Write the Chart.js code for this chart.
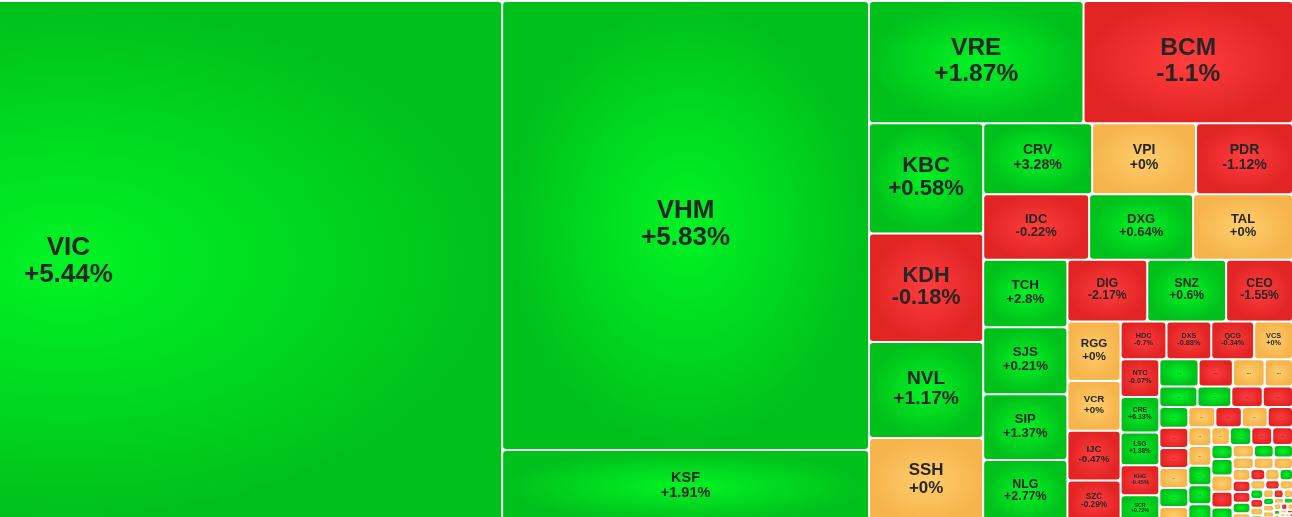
<!DOCTYPE html>
<html>
<head>
<meta charset="utf-8">
<script src="https://cdn.jsdelivr.net/npm/chart.js@4.4.1/dist/chart.umd.min.js"></script>
<style>
  html, body { margin: 0; padding: 0; background: #ffffff; overflow: hidden; }
  #c { display: block; }
</style>
</head>
<body>
<canvas id="c" width="1292" height="517"></canvas>
<script>
// ---- Data ----
const tickers = ['VIC','VHM','KSF','VRE','BCM','KBC','KDH','NVL','SSH','CRV','VPI','PDR','IDC','DXG','TAL',
  'TCH','SJS','SIP','NLG','DIG','SNZ','CEO','RGG','VCR','IJC','SZC','HDC','DXS','QCG','VCS',
  'NTC','CRE','LSG','KHG','SCR'];
const marketCaps = [452313,164559,26755,26169,25559,12597,12369,10944,9690,7739,7384,6887,6943,6812,6550,
  5670,5628,5544,5292,4920,4859,4121,3154,2650,2650,2253,1725,1688,1613,1463,
  1463,1367,1271,1155,1078];
const changes = [5.44,5.83,1.91,1.87,-1.1,0.58,-0.18,1.17,0,3.28,0,-1.12,-0.22,0.64,0,
  2.8,0.21,1.37,2.77,-2.17,0.6,-1.55,0,0,-0.47,-0.29,-0.7,-0.88,-0.34,0,
  -0.07,6.33,1.88,-0.45,0.72];
// small tiles whose tickers are truncated to "..." in the reference
const otherCaps = [1067,932,864,770, 788,700,650,625,600, 588,576,576,551,466, 541,529,518,506,437,
  455,450,440,430,328, 380,371,370,297, 349,345,338,326,270,
  250,245,240,225, 220,210,200,190,185,175,165,160,150,140, 135,125,120,110,100,95,90,85,80,75,
  70,65,60,55,50,45,40,35,30,25, 25,22,20,20,18,16,15,14,12,12,10,10];
const otherTrend = [1,-1,0,0, 1,1,-1,-1,1, -1,-1,0,1,0, 0,-1,0,-1,0,
  0,1,1,1,0, 1,-1,-1,1, 1,0,-1,1,0,
  1,1,0,0, 0,0,-1,-1,1,0,-1,0,1,0, -1,0,1,-1,0,1,0,-1,0,1,
  0,0,-1,0,1,0,-1,0,1,0, 1,0,-1,0,0,1,0,-1,0,0,1,0];

const allLabels = tickers.concat(otherCaps.map(() => '...'));
const allValues = marketCaps.concat(otherCaps);
const allChanges = changes.concat(otherCaps.map(() => null));
const allTrend = changes.map(c => Math.sign(c)).concat(otherTrend);

// ---- Squarified layout: a row grows while its last tile's shape moves toward the target aspect ----
function squarify(values, W, H, rho) {
  const total = values.reduce((a, b) => a + b, 0);
  const k = (W * H) / total;
  const areas = values.map(v => v * k);
  const rects = new Array(values.length);
  let rx = 0, ry = 0, rw = W, rh = H;
  let row = [], rowSum = 0, i = 0;
  const score = a => Math.max(rho / a, a / rho);
  const flush = () => {
    const vertical = rw >= rh;
    const side = vertical ? rh : rw;
    const t = rowSum / side;
    let off = 0;
    for (const idx of row) {
      const len = areas[idx] / t;
      rects[idx] = vertical ? { x: rx, y: ry + off, w: t, h: len } : { x: rx + off, y: ry, w: len, h: t };
      off += len;
    }
    if (vertical) { rx += t; rw -= t; } else { ry += t; rh -= t; }
    row = []; rowSum = 0;
  };
  while (i < areas.length) {
    if (row.length) {
      const vertical = rw >= rh;
      const side = vertical ? rh : rw;
      const last = areas[row[row.length - 1]];
      const tB = rowSum / side, tA = (rowSum + areas[i]) / side;
      const aB = vertical ? tB * tB / last : last / (tB * tB);
      const aA = vertical ? tA * tA / last : last / (tA * tA);
      if (score(aA) > score(aB)) { flush(); continue; }
    }
    row.push(i); rowSum += areas[i]; i++;
  }
  if (row.length) flush();
  return rects;
}

const PALETTE = {
  '1':  { center: 'rgb(0,244,36)',   edge: 'rgb(0,192,27)' },
  '-1': { center: 'rgb(255,62,62)',  edge: 'rgb(226,36,36)' },
  '0':  { center: 'rgb(255,206,108)', edge: 'rgb(246,180,76)' }
};

function roundRectPath(ctx, x, y, w, h, r) {
  ctx.beginPath();
  ctx.moveTo(x + r, y);
  ctx.lineTo(x + w - r, y);
  ctx.arcTo(x + w, y, x + w, y + r, r);
  ctx.lineTo(x + w, y + h - r);
  ctx.arcTo(x + w, y + h, x + w - r, y + h, r);
  ctx.lineTo(x + r, y + h);
  ctx.arcTo(x, y + h, x, y + h - r, r);
  ctx.lineTo(x, y + r);
  ctx.arcTo(x, y, x + r, y, r);
  ctx.closePath();
}

class TreemapTile extends Chart.Element {
  draw(ctx) {
    const gap = 1;
    const x0 = this.x + gap, y0 = this.y + gap;
    const w = this.width - 2 * gap, h = this.height - 2 * gap;
    if (!(w > 0.5 && h > 0.5)) return;
    const r = Math.min(3, w / 3, h / 3);
    const pal = PALETTE[String(this.trend)];
    ctx.save();
    roundRectPath(ctx, x0, y0, w, h, r);
    const cx = x0 + w / 2, cy = y0 + h / 2;
    ctx.translate(cx, cy);
    ctx.scale(w / 2, h / 2);
    const g = ctx.createRadialGradient(0, 0, 0, 0, 0, 1);
    g.addColorStop(0, pal.center);
    g.addColorStop(1, pal.edge);
    ctx.fillStyle = g;
    ctx.fill();
    ctx.restore();

    const fs = Math.min(h / 4.9, w / 4.2, 26);
    if (fs < 3) return;
    ctx.save();
    ctx.fillStyle = '#262626';
    ctx.textAlign = 'center';
    ctx.textBaseline = 'middle';
    ctx.font = 'bold ' + fs.toFixed(2) + 'px "Liberation Sans", Arial, sans-serif';
    if (this.change === null) {
      ctx.fillText(this.label, cx, cy - 0.05 * fs);
    } else {
      const c = this.change;
      const txt = (c >= 0 ? '+' : '') + c + '%';
      ctx.fillText(this.label, cx, cy - 0.52 * fs - 1);
      ctx.fillText(txt, cx, cy + 0.52 * fs - 1);
    }
    ctx.restore();
  }
}
TreemapTile.id = 'treemapTile';
TreemapTile.defaults = {};

class TreemapController extends Chart.DatasetController {
  update(mode) {
    const meta = this._cachedMeta;
    this.updateElements(meta.data, 0, meta.data.length, mode);
  }
  updateElements(elems, start, count) {
    const ds = this.getDataset();
    const { xScale, yScale } = this._cachedMeta;
    if (!xScale || !yScale) return;
    const rects = squarify(ds.data, ds.frame.width, ds.frame.height, ds.targetAspect);
    const labels = this.chart.data.labels;
    for (let i = start; i < start + count; i++) {
      const r = rects[i];
      const px0 = xScale.getPixelForValue(r.x), px1 = xScale.getPixelForValue(r.x + r.w);
      const py0 = yScale.getPixelForValue(r.y), py1 = yScale.getPixelForValue(r.y + r.h);
      Object.assign(elems[i], {
        x: Math.min(px0, px1), y: Math.min(py0, py1),
        width: Math.abs(px1 - px0), height: Math.abs(py1 - py0),
        label: labels[i], change: ds.changes[i], trend: ds.trend[i]
      });
    }
  }
}
TreemapController.id = 'treemapHeat';
TreemapController.defaults = { datasetElementType: false, dataElementType: 'treemapTile' };

Chart.register(TreemapController, TreemapTile);

new Chart(document.getElementById('c'), {
  type: 'treemapHeat',
  data: {
    labels: allLabels,
    datasets: [{
      data: allValues,
      changes: allChanges,
      trend: allTrend,
      frame: { width: 1657, height: 522 },
      targetAspect: Math.SQRT2
    }]
  },
  options: {
    responsive: false,
    devicePixelRatio: 1,
    animation: false,
    events: [],
    layout: { padding: 0 },
    plugins: { legend: { display: false }, tooltip: { enabled: false }, title: { display: false } },
    scales: {
      x: { type: 'linear', min: 365, max: 1656, display: false },
      y: { type: 'linear', min: -1, max: 516, reverse: true, display: false }
    }
  }
});
</script>
</body>
</html>
